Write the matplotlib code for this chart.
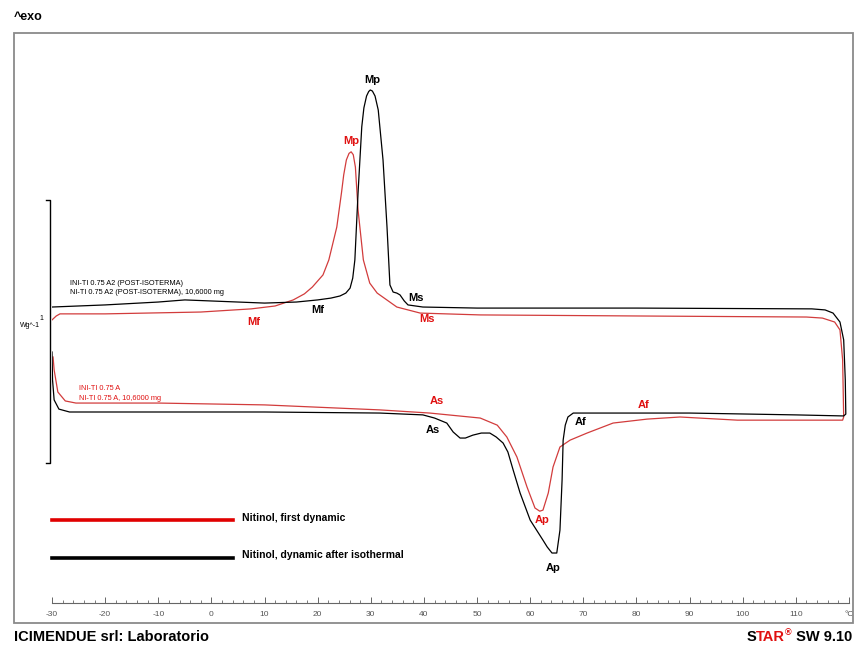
import matplotlib
matplotlib.use('Agg')
import matplotlib.pyplot as plt
from matplotlib.patches import Rectangle
from matplotlib.ticker import MultipleLocator

# curve DSC: temperatura (°C) e flusso termico (W/g)
# ogni curva: raffreddamento (sopra) -> giro a destra -> riscaldamento (sotto)
t_black = [-30, -20, -10, -5, 0, 10, 16, 20, 22.5, 24.2, 25.3, 26.1, 26.6, 27.0,
           27.6, 28.3, 28.7, 29.2, 29.6, 29.9, 30.3, 30.8, 31.4, 32.3, 33.05, 33.6,
           34.2, 34.9, 35.5, 36.3, 37.0, 39.8, 50, 80, 113, 115.5, 117, 118.3,
           119.0, 119.3, 119.4, 119.0,
           110, 90, 68.1, 67.1, 66.6, 66.2, 66.0, 65.6, 65.0, 64.1, 63.2, 62.4,
           60.0, 58.1, 56.8, 55.8, 54.9, 53.6, 52.4, 50.8, 49.2, 47.8, 46.8, 45.5,
           44.3, 42, 39.8, 31.7, 10, -20, -26.7, -28.7, -29.6, -29.9, -30]
hf_black = [0.593, 0.601, 0.612, 0.620, 0.616, 0.608, 0.612, 0.620, 0.627, 0.635,
            0.646, 0.665, 0.703, 0.772, 1.027, 1.278, 1.350, 1.395, 1.412, 1.418,
            1.414, 1.395, 1.342, 1.152, 0.897, 0.677, 0.650, 0.646, 0.639, 0.616,
            0.601, 0.593, 0.589, 0.589, 0.586, 0.582, 0.570, 0.536, 0.468, 0.316,
            0.186, 0.179,
            0.183, 0.190, 0.190, 0.175, 0.144, 0.087, -0.065, -0.255, -0.342,
            -0.342, -0.319, -0.293, -0.217, -0.114, -0.027, 0.042, 0.076, 0.099,
            0.114, 0.114, 0.106, 0.095, 0.095, 0.118, 0.152, 0.171, 0.183, 0.190,
            0.194, 0.194, 0.194, 0.205, 0.240, 0.316, 0.422]

t_red = [-30, -29.2, -28.5, -20, -2, 7.5, 12, 15.4, 17.5, 19, 21, 22.1, 23.6, 24.5,
         24.9, 25.4, 25.9, 26.3, 26.7, 27.1, 27.6, 28.6, 29.8, 31.2, 34.9, 39.3,
         50.6, 80, 112, 115, 117.3, 118.3, 118.8, 119.0, 118.8,
         110, 99, 88.2, 82, 75.6, 70.7, 67.5, 65.6, 64.3, 63.4, 62.4, 61.8, 60.9,
         59.4, 57.5, 55.6, 53.8, 50.6, 41.1, 31.7, 10, -10, -25.5, -27.5, -28.9,
         -29.6, -29.8]
hf_red = [0.544, 0.559, 0.567, 0.567, 0.574, 0.586, 0.597, 0.620, 0.643, 0.669,
          0.715, 0.772, 0.897, 1.030, 1.095, 1.152, 1.177, 1.183, 1.172, 1.125,
          0.962, 0.772, 0.684, 0.646, 0.593, 0.570, 0.563, 0.559, 0.555, 0.551,
          0.536, 0.506, 0.392, 0.175, 0.163,
          0.163, 0.163, 0.175, 0.167, 0.152, 0.114, 0.087, 0.061, -0.015, -0.114,
          -0.179, -0.183, -0.171, -0.091, 0.023, 0.099, 0.144, 0.171, 0.190, 0.202,
          0.221, 0.228, 0.228, 0.236, 0.270, 0.354, 0.403]

tick_values = list(range(-30, 121, 10))
tick_labels = [str(v) for v in range(-30, 111, 10)] + ['°C']

# etichette dei picchi: testo, T, flusso, colore
peak_labels = [('Mp', 30.2, 1.455, 'black'), ('Mp', 26.4, 1.225, 'red'),
               ('Mf', 20.1, 0.580, 'black'), ('Mf', 8.0, 0.535, 'red'),
               ('Ms', 38.5, 0.627, 'black'), ('Ms', 40.6, 0.547, 'red'),
               ('As', 42.5, 0.236, 'red'), ('As', 41.7, 0.125, 'black'),
               ('Af', 69.4, 0.156, 'black'), ('Af', 81.3, 0.221, 'red'),
               ('Ap', 62.2, -0.217, 'red'), ('Ap', 64.3, -0.399, 'black')]

RED = '#e01010'
CURVE_RED = '#d23c3c'
FONT = 'Liberation Sans'

fig = plt.figure(figsize=(8.58, 6.5), dpi=100)

# cornice grigia
fig.add_artist(Rectangle((14 / 858, 1 - 623 / 650), 839 / 858, 590 / 650,
                         transform=fig.transFigure, fill=False,
                         edgecolor='#8a8a8a', linewidth=1.3))

ax = fig.add_axes([52 / 858, 1 - 603 / 650, 797 / 858, 568 / 650])
ax.set_xlim(-30, 120)
ax.set_ylim(-0.532, 1.627)
ax.patch.set_alpha(0)
for s in ['top', 'right', 'left']:
    ax.spines[s].set_visible(False)
ax.spines['bottom'].set_color('#666666')
ax.spines['bottom'].set_linewidth(0.8)
ax.set_yticks([])
ax.set_xticks(tick_values)
ax.set_xticklabels(tick_labels, fontsize=6, color='#555555', family=FONT)
ax.xaxis.set_minor_locator(MultipleLocator(2))
ax.tick_params(axis='x', which='major', direction='in', length=4, width=0.7,
               color='#666666', pad=6)
ax.tick_params(axis='x', which='minor', direction='in', length=2.5, width=0.6,
               color='#666666')

ax.plot(t_red, hf_red, color=CURVE_RED, lw=0.9)
ax.plot(t_black, hf_black, color='black', lw=0.9)

# barra di scala 1 W/g
ax.plot([-31.1, -30.4, -30.4, -31.1], [1, 1, 0, 0], color='black', lw=1.0,
        clip_on=False)
ax.text(-31.6, 0.548, '1', fontsize=5, ha='right', va='center', family=FONT)
ax.text(-32.2, 0.522, 'Wg^-1', fontsize=5, ha='right', va='center', family=FONT)

# nomi dei campioni
ax.text(-26.6, 0.683, 'INI-TI 0.75 A2 (POST-ISOTERMA)', fontsize=5.3,
        va='center', family=FONT)
ax.text(-26.6, 0.649, 'NI-TI 0.75 A2 (POST-ISOTERMA), 10,6000 mg', fontsize=5.3,
        va='center', family=FONT)
ax.text(-25.0, 0.285, 'INI-TI 0.75 A', fontsize=5.3, va='center', color=RED,
        family=FONT)
ax.text(-25.0, 0.247, 'NI-TI 0.75 A, 10,6000 mg', fontsize=5.3, va='center',
        color=RED, family=FONT)

for txt, x, y, c in peak_labels:
    ax.text(x, y, txt, fontsize=8, fontweight='bold', ha='center', va='center',
            color=RED if c == 'red' else 'black', family=FONT)

# legenda
ax.plot([-30, 4.1], [-0.217, -0.217], color='#e00000', lw=2.6, clip_on=False)
ax.plot([-30, 4.1], [-0.361, -0.361], color='black', lw=2.6, clip_on=False)
ax.text(5.8, -0.209, 'Nitinol, first dynamic', fontsize=7.5, fontweight='bold',
        va='center', family=FONT)
ax.text(5.8, -0.350, 'Nitinol, dynamic after isothermal', fontsize=7.5,
        fontweight='bold', va='center', family=FONT)

# testi esterni
fig.text(14 / 858, 1 - 17 / 650, '^exo', fontsize=9, fontweight='bold',
         va='center', family=FONT)
fig.text(14 / 858, 1 - 637 / 650, 'ICIMENDUE srl: Laboratorio', fontsize=10.5,
         fontweight='bold', va='center', family=FONT)

# "STAR® SW 9.10" con TAR in rosso, costruito da destra
renderer = fig.canvas.get_renderer()
pieces = [('S', 'black', 10.5, 0), ('TAR', RED, 10.5, 0), ('®', RED, 6.5, 4),
          (' SW 9.10', 'black', 10.5, 0)]
x_px = 852
for txt, c, fs, dy in reversed(pieces):
    t = fig.text(x_px / 858, (650 - 637 + dy) / 650, txt, fontsize=fs,
                 fontweight='bold', color=c, ha='right', va='center', family=FONT)
    w = t.get_window_extent(renderer).width
    x_px -= w

fig.savefig('out.png', dpi=100)
